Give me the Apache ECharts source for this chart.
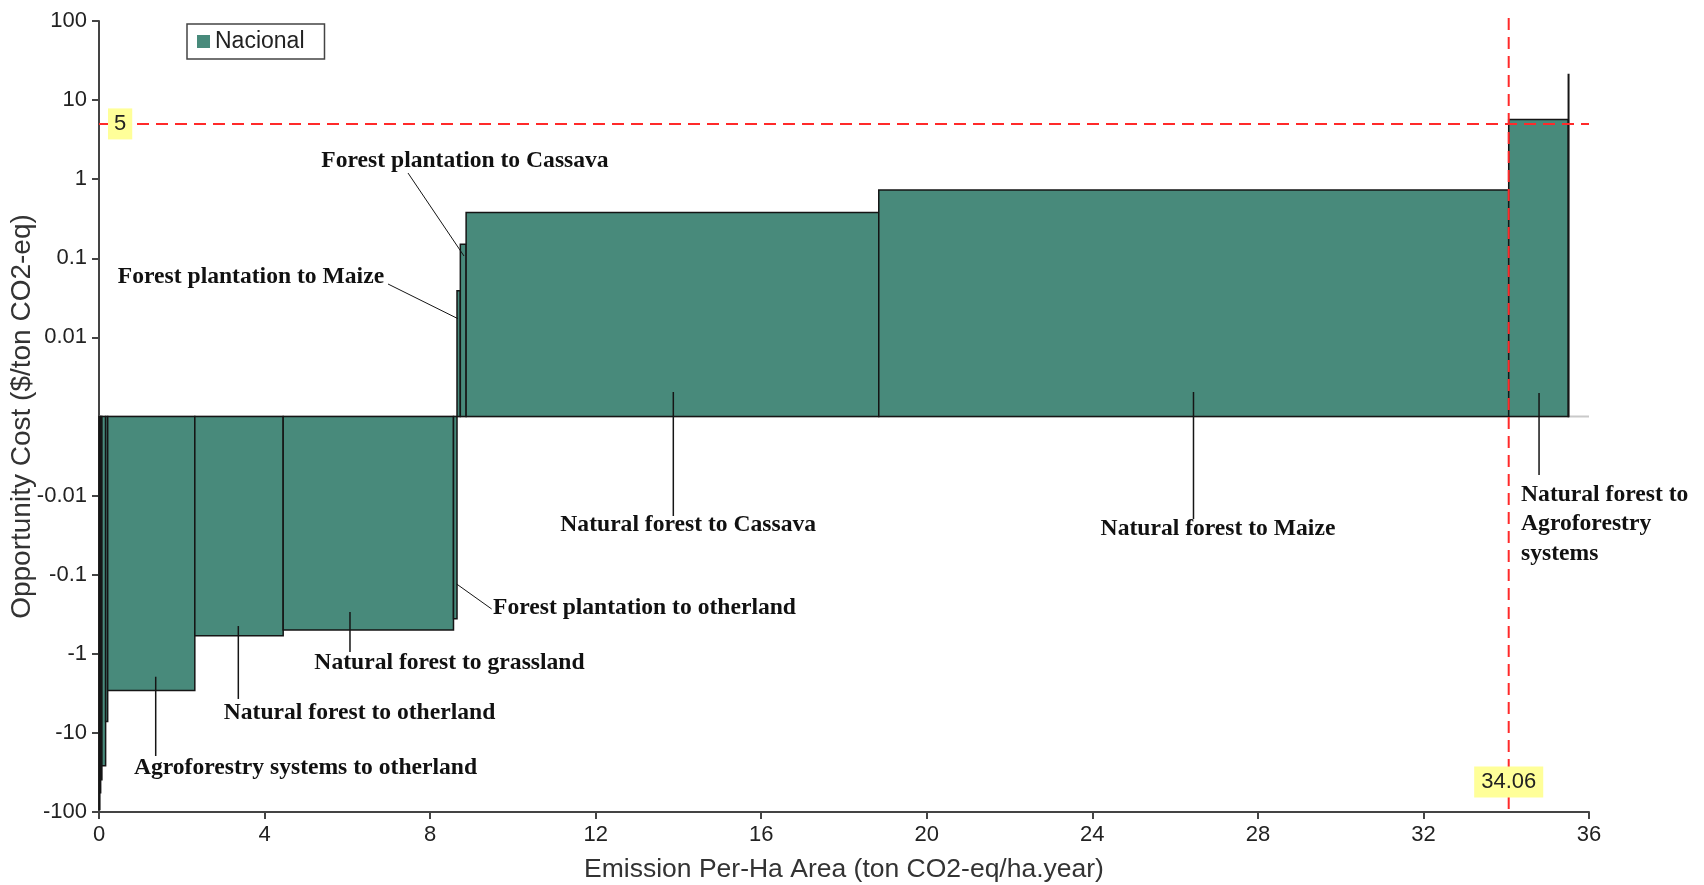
<!DOCTYPE html>
<html>
<head>
<meta charset="utf-8">
<title>Opportunity cost curve</title>
<script src="https://cdn.jsdelivr.net/npm/echarts@6/dist/echarts.min.js"></script>
<style>
  html, body { margin: 0; padding: 0; background: #ffffff; }
  #chart { width: 1704px; height: 885px; }
</style>
</head>
<body>
<div id="chart"></div>
<script>
// Land-use transitions, in order along the curve (unnamed slivers are unlabelled)
const transitions = [
  '', '', '', '', '',
  'Agroforestry systems to otherland',
  'Natural forest to otherland',
  'Natural forest to grassland',
  'Forest plantation to otherland',
  'Forest plantation to Maize',
  'Forest plantation to Cassava',
  'Natural forest to Cassava',
  'Natural forest to Maize',
  'Natural forest to Agroforestry systems',
  ''
];
// Emission per-ha area contributed by each transition (ton CO2-eq/ha.year)
const emissionWidths = [0.02, 0.02, 0.03, 0.09, 0.05, 2.105, 2.135, 4.115, 0.085, 0.08, 0.14, 9.97, 15.22, 1.44, 0.012];
// Opportunity cost of each transition ($/ton CO2-eq)
const opportunityCosts = [-93, -57, -39, -26, -7.2, -2.9, -0.59, -0.5, -0.36, 0.039, 0.15, 0.38, 0.73, 5.7, 21];
// Y axis tick values (symmetric log scale)
const yTickValues = [-100, -10, -1, -0.1, -0.01, 0.01, 0.1, 1, 10, 100];
// X axis range
const xMin = 0, xMax = 36, xStep = 4;
// Threshold cost and the emission level reached below it
const costThreshold = 5;
const emissionThreshold = 34.06;

// symmetric log transform: ±0.01 -> ±1, ±100 -> ±5
function slog(v) {
  if (v === 0) return 0;
  return Math.sign(v) * (Math.log10(Math.abs(v)) + 3);
}
const yTickPos = yTickValues.map(slog);

// Callout layout: text anchor and leader line, in axis units (x, transformed y)
const callouts = [
  { bar: 10, at: [8.843, 3.230],  from: [7.466, 3.078],  to: [8.819, 2.029],  align: 'center', lw: 1 },
  { bar: 9,  at: [3.672, 1.764],  from: [6.983, 1.675],  to: [8.674, 1.236],  align: 'center', lw: 1 },
  { bar: 11, at: [14.236, -1.372], from: [13.876, 0.310], to: [13.876, -1.258], align: 'center', lw: 1.5 },
  { bar: 12, at: [27.036, -1.422], from: [26.444, 0.310], to: [26.444, -1.296], align: 'center', lw: 1.5 },
  { bar: 13, at: [34.358, -1.359], from: [34.793, 0.297], to: [34.793, -0.740], align: 'left', lw: 1.5, wrap: 180 },
  { bar: 8,  at: [9.519, -2.421],  from: [8.642, -2.118], to: [9.488, -2.434],  align: 'left', lw: 1 },
  { bar: 7,  at: [8.468, -3.116],  from: [6.064, -2.472], to: [6.064, -2.977],  align: 'center', lw: 1.5 },
  { bar: 6,  at: [6.294, -3.748],  from: [3.366, -2.649], to: [3.366, -3.571],  align: 'center', lw: 1.5 },
  { bar: 5,  at: [4.989, -4.444],  from: [1.370, -3.290], to: [1.370, -4.292],  align: 'center', lw: 1.5 }
];

const SANS = '"Liberation Sans", Arial, sans-serif';
const SERIF = '"Liberation Serif", "Times New Roman", serif';
const BAR_COLOR = '#488a7b';

// Build bar rectangles from cumulative widths
const barData = [];
let acc = xMin;
for (let i = 0; i < emissionWidths.length; i++) {
  const x0 = acc;
  acc += emissionWidths[i];
  barData.push({ name: transitions[i], value: [x0, acc, slog(opportunityCosts[i]), opportunityCosts[i]] });
}

function tickText(v) {
  for (let i = 0; i < yTickValues.length; i++) {
    if (Math.abs(yTickPos[i] - v) < 1e-6) return String(yTickValues[i]);
  }
  return '';
}

const chart = echarts.init(document.getElementById('chart'), null, { renderer: 'canvas' });

const option = {
  animation: false,
  backgroundColor: '#ffffff',
  grid: { left: 99, right: 115, top: 21, bottom: 73, containLabel: false, outerBoundsMode: 'none' },
  legend: {
    left: 187, top: 24,
    data: [{ name: 'Nacional', icon: 'rect' }],
    itemWidth: 13, itemHeight: 13,
    padding: [6, 20, 6, 10],
    borderColor: '#444', borderWidth: 1.5, borderRadius: 0,
    selectedMode: false,
    textStyle: { fontFamily: SANS, fontSize: 23, color: '#222' }
  },
  xAxis: {
    type: 'value', min: xMin, max: xMax, interval: xStep,
    name: 'Emission Per-Ha Area (ton CO2-eq/ha.year)',
    nameLocation: 'middle', nameGap: 44, nameMoveOverlap: false,
    nameTextStyle: { fontFamily: SANS, fontSize: 26.5, color: '#333' },
    axisLine: { onZero: false, lineStyle: { color: '#444', width: 2 } },
    axisTick: { length: 7, lineStyle: { color: '#444', width: 2 } },
    axisLabel: { fontFamily: SANS, fontSize: 22, color: '#222', margin: 12 },
    splitLine: { show: false }
  },
  yAxis: {
    type: 'value', min: -5, max: 5, interval: 1,
    name: 'Opportunity Cost ($/ton CO2-eq)',
    nameLocation: 'middle', nameGap: 63, nameMoveOverlap: false,
    nameTextStyle: { fontFamily: SANS, fontSize: 28, color: '#333' },
    axisLine: { show: true, onZero: false, lineStyle: { color: '#444', width: 2 } },
    axisTick: { show: true, customValues: yTickPos, length: 7, lineStyle: { color: '#444', width: 2 } },
    axisLabel: { customValues: yTickPos, formatter: tickText, fontFamily: SANS, fontSize: 22, color: '#222', margin: 12 },
    splitLine: { show: false }
  },
  series: [
    {
      // zero baseline
      name: 'baseline', type: 'custom', z: 1, silent: true,
      data: [[0]],
      renderItem: function (params, api) {
        const a = api.coord([xMin, 0]);
        const b = api.coord([xMax, 0]);
        return { type: 'line', shape: { x1: a[0], y1: a[1], x2: b[0], y2: b[1] },
                 style: { stroke: '#c9c9c9', lineWidth: 2 } };
      }
    },
    {
      name: 'Nacional', type: 'custom', z: 2,
      itemStyle: { color: BAR_COLOR },
      encode: { x: [0, 1], y: 2 },
      data: barData,
      renderItem: function (params, api) {
        const p0 = api.coord([api.value(0), api.value(2)]);
        const p1 = api.coord([api.value(1), 0]);
        return {
          type: 'rect',
          shape: { x: Math.min(p0[0], p1[0]), y: Math.min(p0[1], p1[1]),
                   width: Math.abs(p1[0] - p0[0]), height: Math.abs(p1[1] - p0[1]) },
          style: { fill: BAR_COLOR, stroke: '#151515', lineWidth: 1.5 }
        };
      }
    },
    {
      // threshold guides
      name: 'threshold', type: 'custom', z: 3, silent: true, clip: false,
      data: [[0]],
      renderItem: function (params, api) {
        const ty = slog(costThreshold);
        const h0 = api.coord([xMin, ty]);
        const h1 = api.coord([xMax, ty]);
        const vTop = api.coord([emissionThreshold, 5]);
        const vBot = api.coord([emissionThreshold, -5]);
        const tagPos = api.coord([emissionThreshold, -4.62]);
        const dash = { stroke: '#ff2a2a', lineWidth: 2, lineDash: [12, 7] };
        return {
          type: 'group',
          children: [
            { type: 'line', shape: { x1: h0[0], y1: h0[1], x2: h1[0], y2: h1[1] }, style: dash },
            { type: 'line', shape: { x1: vTop[0], y1: vTop[1] - 3, x2: vBot[0], y2: vBot[1] }, style: dash },
            { type: 'text', z2: 10, style: {
                text: String(costThreshold), x: h0[0] + 9, y: h0[1],
                align: 'left', verticalAlign: 'middle',
                font: '22px ' + SANS, fill: '#222', lineHeight: 22,
                backgroundColor: '#ffff99', padding: [5, 6, 4, 6] } },
            { type: 'text', z2: 10, style: {
                text: emissionThreshold.toFixed(2), x: tagPos[0], y: tagPos[1],
                align: 'center', verticalAlign: 'middle',
                font: '22px ' + SANS, fill: '#222', lineHeight: 22,
                backgroundColor: '#ffff99', padding: [5, 7, 4, 7] } }
          ]
        };
      }
    },
    {
      // callout labels with leader lines
      name: 'callouts', type: 'custom', z: 4, silent: true, clip: false,
      data: callouts.map(function (c, i) { return [i]; }),
      renderItem: function (params, api) {
        const c = callouts[params.dataIndex];
        const t = api.coord(c.at);
        const a = api.coord(c.from);
        const b = api.coord(c.to);
        const style = {
          text: transitions[c.bar], x: t[0], y: t[1],
          align: c.align, verticalAlign: 'middle',
          font: 'bold 23.6px ' + SERIF, fill: '#111', lineHeight: 29.5
        };
        if (c.wrap) { style.width = c.wrap; style.overflow = 'break'; }
        return {
          type: 'group',
          children: [
            { type: 'line', shape: { x1: a[0], y1: a[1], x2: b[0], y2: b[1] },
              style: { stroke: '#151515', lineWidth: c.lw } },
            { type: 'text', style: style }
          ]
        };
      }
    }
  ]
};

chart.setOption(option);
</script>
</body>
</html>
